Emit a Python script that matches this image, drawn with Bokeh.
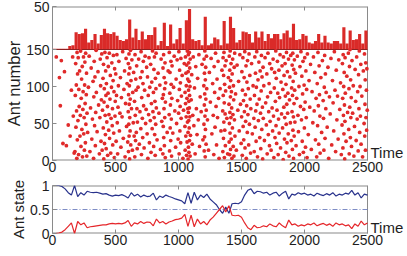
import math
from bokeh.plotting import figure
from bokeh.layouts import column
from bokeh.models import FixedTicker
from bokeh.embed import file_html
from bokeh.resources import INLINE
from bokeh.core.properties import value

# ---------------- data ----------------
bin_width = 25
hist_counts = [1, 1, 1, 1, 1, 4, 5,
               20, 18, 19, 24, 8, 11, 18, 7, 17, 24, 19, 18, 20, 16, 11, 10, 12,
               35, 14, 24, 11, 21, 12, 17, 17, 26, 5, 10, 31, 4, 29, 7, 12, 25, 7, 34, 47, 12, 10, 11, 5, 38,
               5, 7, 14, 12, 5, 33, 7, 38, 25, 8, 11, 21, 20, 18, 8, 21, 14, 21, 10, 18, 13, 18, 18, 12, 19,
               22, 14, 30, 11, 12, 18, 16, 8, 7, 10, 18, 8, 16, 8, 7, 10, 10, 7, 26, 7, 22, 11, 12, 18, 7, 22]
hist_max_label = 50

state_time = list(range(0, 2501, 25))
state_blue = [1.0, 1.0, 1.0, 0.98, 0.93, 0.85, 0.8, 1.0, 0.77,
              0.85, 0.8, 0.88, 0.86, 0.85, 0.86, 0.84, 0.82, 0.83, 0.8, 0.78, 0.8,
              0.79, 0.81, 0.78, 0.74, 0.85, 0.78, 0.82, 0.76, 0.8, 0.77, 0.78, 0.84, 0.7, 0.78, 0.75, 0.8, 0.77, 0.75, 0.72, 0.7,
              0.68, 0.62, 0.85, 0.63, 0.86, 0.7, 0.8, 0.75, 0.82, 0.72, 0.66, 0.6, 0.5, 0.42, 0.55, 0.42, 0.62, 0.63, 0.62, 0.66,
              0.8, 0.9, 0.93, 0.83, 0.88, 0.87, 0.84, 0.86, 0.8, 0.84, 0.86, 0.78, 0.84, 0.88, 0.72, 0.82, 0.8, 0.85, 0.82, 0.84,
              0.8, 0.82, 0.78, 0.84, 0.81, 0.79, 0.83, 0.8, 0.85, 0.78, 0.82, 0.8, 0.84, 0.82, 0.9, 0.8, 0.85, 0.74, 0.82, 0.8]
state_red = [0.0, 0.0, 0.01, 0.03, 0.08, 0.15, 0.22, 0.0, 0.25,
             0.18, 0.22, 0.12, 0.14, 0.15, 0.16, 0.17, 0.18, 0.18, 0.2, 0.21, 0.2,
             0.21, 0.2, 0.22, 0.27, 0.15, 0.22, 0.2, 0.25, 0.21, 0.24, 0.23, 0.16, 0.3, 0.22, 0.25, 0.2, 0.24, 0.26, 0.29, 0.3,
             0.32, 0.4, 0.15, 0.38, 0.14, 0.3, 0.2, 0.25, 0.18, 0.28, 0.34, 0.42, 0.5, 0.58, 0.45, 0.58, 0.38, 0.37, 0.38, 0.34,
             0.22, 0.12, 0.08, 0.17, 0.12, 0.13, 0.16, 0.14, 0.2, 0.16, 0.14, 0.22, 0.16, 0.12, 0.28, 0.18, 0.2, 0.15, 0.18, 0.16,
             0.2, 0.18, 0.22, 0.16, 0.19, 0.21, 0.17, 0.2, 0.15, 0.22, 0.18, 0.2, 0.16, 0.18, 0.1, 0.2, 0.15, 0.26, 0.18, 0.22]
state_threshold = 0.5

events = [
    (30, 140), (55, 112), (62, 74), (70, 135), (83, 23), (95, 120), (110, 20), (125, 48), (140, 33), (150, 95), (160, 140), (165, 60), (172, 10),
    (178, 12), (181, 88), (184, 131), (186, 45), (189, 102), (191, 67), (193, 3), (195, 146), (197, 28), (199, 117),
    (202, 54), (204, 139), (207, 8), (209, 96), (212, 73), (215, 121), (218, 33), (221, 61), (223, 148),
    (226, 19), (228, 84), (231, 110), (233, 42), (236, 127), (238, 5), (241, 69), (243, 93), (246, 140), (248, 36),
    (251, 58), (253, 14), (255, 102), (257, 133), (259, 77), (261, 24), (263, 145), (265, 49), (268, 89), (270, 118), (272, 6), (274, 64),
    (279, 38), (285, 99), (291, 141), (297, 12),
    (302, 71), (307, 125), (312, 29), (317, 56), (322, 107),
    (326, 3), (328, 86), (331, 134), (334, 47), (337, 113), (340, 20), (343, 65), (346, 149), (348, 92),
    (354, 39), (361, 120), (366, 75), (372, 9),
    (376, 58), (379, 137), (382, 101), (385, 26), (388, 82), (391, 144), (394, 14), (397, 68),
    (401, 111), (403, 44), (405, 130), (407, 2), (409, 79), (411, 97), (413, 23), (416, 146), (418, 61), (420, 35), (422, 121), (424, 88),
    (426, 16), (428, 104), (431, 52), (433, 139), (436, 73), (438, 7), (441, 91), (443, 127), (446, 41), (448, 62),
    (451, 145), (453, 30), (456, 83), (459, 115), (462, 10), (465, 57), (468, 99), (471, 132), (474, 47),
    (476, 70), (478, 21), (481, 108), (483, 142), (486, 37), (488, 93), (491, 4), (493, 124), (496, 60), (498, 80),
    (502, 117), (505, 26), (508, 88), (511, 143), (514, 51), (517, 9), (520, 72), (523, 101),
    (527, 134), (531, 40), (535, 64), (539, 112), (543, 18), (547, 85),
    (552, 59), (557, 147), (562, 30), (567, 96), (572, 121),
    (576, 5), (580, 77), (584, 138), (588, 46), (592, 104), (597, 25),
    (601, 66), (602, 131), (603, 12), (604, 89), (605, 49), (606, 117), (607, 144), (608, 33), (609, 76), (610, 101), (612, 2), (613, 58), (614, 125), (616, 40), (617, 83), (619, 149), (621, 21), (623, 108),
    (627, 70), (630, 136), (634, 14), (637, 92), (641, 51), (644, 119), (648, 33),
    (651, 80), (653, 5), (655, 143), (657, 61), (659, 27), (661, 110), (663, 95), (665, 38), (668, 128), (670, 70), (672, 16), (674, 52),
    (679, 99), (684, 137), (689, 22), (694, 66), (698, 112),
    (701, 43), (703, 147), (706, 8), (708, 85), (711, 120), (713, 57), (716, 31), (718, 104), (721, 134), (723, 74),
    (727, 17), (731, 95), (735, 141), (739, 50), (743, 69), (747, 126),
    (751, 36), (754, 113), (757, 3), (760, 88), (763, 62), (766, 139), (769, 24), (772, 99),
    (776, 54), (779, 130), (782, 11), (785, 77), (788, 106), (791, 43), (794, 148), (797, 66),
    (801, 92), (803, 19), (805, 123), (807, 58), (809, 140), (811, 35), (813, 80), (815, 7), (817, 111), (819, 49), (821, 97), (822, 145), (824, 71),
    (830, 28), (838, 118), (845, 64),
    (852, 102), (857, 15), (862, 137), (867, 53), (872, 84),
    (876, 9), (877, 125), (879, 46), (880, 89), (882, 143), (883, 31), (885, 70), (886, 112), (888, 20), (890, 97), (891, 58), (893, 132), (895, 4), (896, 79), (898, 105),
    (910, 38), (918, 121),
    (926, 62), (927, 146), (929, 13), (931, 91), (932, 119), (934, 44), (936, 75), (938, 27), (940, 134), (942, 103), (943, 56), (945, 6), (947, 84), (949, 128),
    (955, 37), (961, 99), (966, 141), (971, 67),
    (977, 18), (981, 110), (985, 50), (989, 136), (993, 81), (997, 29),
    (1001, 64), (1003, 147), (1005, 9), (1007, 96), (1009, 122), (1011, 40), (1013, 73), (1015, 105), (1017, 24), (1019, 138), (1021, 57), (1023, 87),
    (1029, 115), (1035, 3), (1040, 68), (1046, 131),
    (1051, 46), (1052, 92), (1053, 14), (1055, 140), (1056, 77), (1058, 33), (1059, 118), (1061, 59), (1062, 101), (1064, 7), (1065, 129), (1067, 84), (1068, 25), (1070, 148), (1071, 52), (1073, 110), (1074, 70),
    (1076, 2), (1076, 38), (1077, 120), (1078, 65), (1078, 143), (1079, 18), (1080, 95), (1081, 54), (1081, 132), (1082, 80), (1083, 11), (1084, 107), (1085, 44), (1086, 146), (1086, 71), (1087, 27), (1088, 88), (1089, 125), (1090, 59), (1091, 100), (1092, 6), (1093, 137), (1095, 34),
    (1101, 82), (1105, 116), (1109, 22), (1113, 61), (1117, 140), (1122, 47),
    (1127, 98), (1132, 9), (1137, 127), (1142, 70), (1147, 35),
    (1152, 111), (1157, 55), (1162, 143), (1167, 19), (1172, 86),
    (1180, 66), (1187, 130), (1194, 28),
    (1201, 101), (1202, 49), (1203, 137), (1204, 13), (1205, 75), (1206, 118), (1207, 32), (1208, 90), (1209, 148), (1210, 60), (1212, 5), (1213, 109), (1214, 42), (1216, 126), (1217, 83), (1219, 22), (1220, 68), (1222, 141), (1224, 97),
    (1230, 55), (1238, 14), (1245, 119),
    (1253, 79), (1259, 138), (1265, 36), (1271, 104),
    (1276, 61), (1280, 8), (1283, 127), (1287, 92), (1290, 45), (1294, 145), (1298, 73),
    (1302, 21), (1306, 110), (1310, 58), (1314, 134), (1318, 84), (1322, 3),
    (1330, 97), (1337, 40), (1345, 122),
    (1351, 67), (1352, 12), (1354, 139), (1355, 88), (1357, 30), (1358, 115), (1360, 52), (1361, 146), (1363, 78), (1364, 4), (1366, 103), (1367, 41), (1369, 128), (1370, 63), (1372, 20), (1374, 94),
    (1378, 135), (1384, 57), (1390, 9), (1396, 112),
    (1401, 76), (1402, 25), (1403, 141), (1404, 50), (1405, 99), (1406, 8), (1407, 122), (1408, 65), (1409, 37), (1410, 148), (1412, 86), (1413, 15), (1414, 108), (1416, 58), (1417, 131), (1418, 29), (1420, 93), (1422, 71), (1424, 3),
    (1426, 117), (1428, 44), (1430, 137), (1432, 62), (1434, 19), (1436, 101), (1438, 82), (1440, 6), (1442, 126), (1444, 55), (1446, 145), (1448, 33),
    (1453, 90), (1459, 14), (1465, 129), (1471, 68),
    (1477, 107), (1482, 40), (1487, 143), (1492, 76), (1497, 23),
    (1501, 59), (1503, 120), (1506, 7), (1508, 95), (1511, 139), (1513, 46), (1516, 81), (1518, 28), (1521, 112), (1523, 66),
    (1526, 147), (1528, 17), (1531, 89), (1533, 53), (1536, 128), (1538, 3), (1541, 74), (1543, 106), (1546, 38), (1548, 135),
    (1551, 62), (1554, 97), (1557, 21), (1560, 144), (1563, 49), (1566, 115), (1569, 83), (1572, 10), (1574, 70),
    (1580, 131), (1586, 36), (1592, 101), (1598, 57),
    (1601, 12), (1603, 88), (1606, 140), (1608, 45), (1611, 118), (1613, 67), (1616, 26), (1618, 99), (1621, 147), (1623, 76),
    (1627, 5), (1631, 109), (1634, 54), (1638, 133), (1641, 83), (1645, 31), (1648, 121),
    (1651, 64), (1653, 16), (1656, 94), (1658, 142), (1661, 42), (1663, 113), (1666, 72), (1668, 2), (1671, 126), (1673, 57),
    (1677, 101), (1682, 27), (1687, 139), (1692, 78), (1697, 48),
    (1701, 117), (1704, 9), (1707, 86), (1710, 145), (1713, 35), (1716, 66), (1719, 104), (1722, 20), (1724, 131),
    (1727, 53), (1731, 92), (1735, 14), (1739, 124), (1743, 71), (1747, 40),
    (1751, 137), (1754, 60), (1757, 4), (1760, 98), (1763, 119), (1766, 31), (1769, 80), (1772, 148), (1774, 47),
    (1776, 111), (1779, 23), (1782, 68), (1785, 134), (1788, 91), (1791, 8), (1794, 56), (1797, 122), (1799, 37),
    (1802, 85), (1806, 143), (1810, 17), (1814, 106), (1818, 63), (1822, 128),
    (1826, 44), (1828, 96), (1831, 1), (1833, 140), (1836, 72), (1838, 115), (1841, 29), (1843, 58), (1846, 131), (1848, 87),
    (1851, 11), (1853, 103), (1855, 49), (1857, 146), (1859, 76), (1861, 24), (1864, 120), (1866, 64), (1868, 91), (1871, 36), (1873, 137),
    (1877, 6), (1881, 82), (1884, 113), (1888, 51), (1891, 142), (1895, 27), (1898, 98),
    (1901, 66), (1902, 129), (1904, 15), (1905, 88), (1907, 145), (1908, 41), (1910, 107), (1912, 59), (1913, 3), (1915, 123), (1917, 77), (1918, 33), (1920, 136), (1922, 95), (1924, 52),
    (1928, 118), (1933, 20), (1938, 84), (1943, 141), (1948, 61),
    (1952, 39), (1956, 100), (1960, 8), (1964, 127), (1968, 73), (1972, 147),
    (1976, 55), (1979, 114), (1982, 26), (1985, 90), (1988, 134), (1991, 11), (1994, 69), (1997, 102), (1999, 44),
    (2002, 139), (2005, 79), (2008, 18), (2011, 121), (2014, 58), (2017, 96), (2020, 4), (2023, 144),
    (2030, 35), (2036, 108), (2042, 72), (2048, 130),
    (2054, 15), (2060, 93), (2066, 51), (2071, 140),
    (2077, 67), (2082, 119), (2087, 28), (2092, 84), (2097, 5),
    (2101, 104), (2104, 47), (2107, 146), (2110, 74), (2113, 22), (2116, 128), (2119, 89), (2122, 60), (2124, 10),
    (2130, 112), (2136, 38), (2142, 135), (2148, 81),
    (2151, 57), (2154, 14), (2157, 99), (2160, 142), (2163, 30), (2166, 117), (2169, 70), (2172, 92),
    (2180, 45), (2186, 126), (2192, 3), (2198, 86),
    (2204, 63), (2210, 138), (2216, 21), (2222, 108),
    (2227, 78), (2232, 40), (2237, 147), (2242, 95), (2247, 12),
    (2252, 122), (2257, 55), (2262, 87), (2267, 29), (2272, 136),
    (2280, 69), (2286, 105), (2292, 8), (2298, 48),
    (2301, 131), (2303, 84), (2305, 17), (2307, 143), (2309, 61), (2311, 100), (2313, 36), (2315, 119), (2317, 75), (2319, 2), (2321, 53), (2322, 139), (2324, 91),
    (2330, 26), (2336, 114), (2342, 65), (2348, 145),
    (2351, 42), (2353, 97), (2355, 9), (2357, 127), (2359, 72), (2361, 150), (2364, 31), (2366, 109), (2368, 58), (2371, 85), (2373, 19),
    (2377, 135), (2382, 64), (2387, 101), (2392, 6), (2397, 46),
    (2402, 123), (2406, 80), (2410, 27), (2414, 140), (2418, 56), (2422, 93),
    (2426, 13), (2429, 116), (2432, 70), (2435, 148), (2438, 38), (2441, 100), (2444, 60), (2447, 130), (2449, 22),
    (2455, 87), (2461, 5), (2467, 121), (2473, 50),
    (2476, 144), (2478, 33), (2480, 76), (2482, 109), (2484, 14), (2486, 132), (2488, 58), (2491, 95), (2493, 41), (2495, 124), (2498, 68),
]
ant_time = [e[0] for e in events]
ant_id = [e[1] for e in events]

x_ticks = [0, 500, 1000, 1500, 2000, 2500]
top_y_ticks = [0, 50, 100, 150]
state_ticks = [0, 0.5, 1]
t_min, t_max = 0, 2500

# ---------------- style / layout ----------------
FONT = "Liberation Sans"
RED = "#da2a28"
DOT = "#e02a2a"
BLUE = "#28328c"
LRED = "#e5262a"
FRAME = "#8a8a8a"
TXT = "#1e1e1e"

W = 407
LEFT = 52          # px left of the box
BOX_W = 315        # px width of the box
RIGHT_SPACE = W - LEFT - BOX_W
x_end = t_max + (t_max - t_min) * RIGHT_SPACE / BOX_W   # room for the "Time" text
TICK_PX = 4

hist_base = 150
top_frame_h = 154
bot_frame_h = 48
y_top = hist_base * top_frame_h / 111.0
hist_scale = (y_top - hist_base) / hist_max_label


def style(p, yt, yover, frame_h, y0, y1, label, label_size):
    p.grid.visible = False
    p.outline_line_color = None
    for ax in (p.xaxis[0], p.yaxis[0]):
        ax.major_tick_in = TICK_PX
        ax.major_tick_out = 0
        ax.minor_tick_line_color = None
        ax.major_tick_line_color = FRAME
        ax.major_label_text_font = FONT
        ax.major_label_text_font_size = "14px"
        ax.major_label_text_color = TXT
    p.xaxis[0].major_label_standoff = 1
    p.yaxis[0].major_label_standoff = 3
    p.xaxis[0].axis_line_color = None
    p.yaxis[0].axis_line_color = FRAME
    p.xaxis[0].ticker = FixedTicker(ticks=x_ticks)
    p.yaxis[0].ticker = FixedTicker(ticks=yt)
    p.yaxis[0].major_label_overrides = yover
    p.yaxis[0].axis_label = label
    p.yaxis[0].axis_label_text_font = FONT
    p.yaxis[0].axis_label_text_font_size = label_size
    p.yaxis[0].axis_label_text_font_style = "normal"
    p.yaxis[0].axis_label_text_color = TXT
    p.yaxis[0].axis_label_standoff = 0
    # box around the data area (time 0..2500), drawn through the data scales
    p.line([t_min, t_max], [y0, y0], line_color=FRAME, line_width=2)
    p.line([t_min, t_max], [y1, y1], line_color=FRAME, line_width=2)
    p.line([t_max, t_max], [y0, y1], line_color=FRAME, line_width=1)
    # inward ticks on the top edge
    tick_len = (y1 - y0) * TICK_PX / frame_h
    p.segment(x0=x_ticks, y0=[y1] * len(x_ticks), x1=x_ticks, y1=[y1 - tick_len] * len(x_ticks),
              line_color=FRAME, line_width=1)


# ---------------- top panel ----------------
p1 = figure(width=W, height=177, x_range=(t_min, x_end), y_range=(0, y_top),
            output_backend="svg", toolbar_location=None,
            min_border_left=LEFT, min_border_right=0, min_border_top=6, min_border_bottom=17)
style(p1, top_y_ticks + [y_top], {y_top: str(hist_max_label)}, top_frame_h, 0, y_top,
      "Ant number", "16.5px")

centers = [bin_width * (k + 0.5) for k in range(len(hist_counts))]
tops = [hist_base + c * hist_scale for c in hist_counts]
p1.vbar(x=centers, width=bin_width, bottom=hist_base, top=tops,
        fill_color=RED, line_color=None)
p1.line([t_min, t_max], [hist_base, hist_base], line_color="#8c2222", line_width=1)
p1.scatter(ant_time, ant_id, size=3.8, fill_color=DOT, line_color=None)
p1.text(x=[t_max], y=[y_top * 8 / top_frame_h], text=["Time"], x_offset=3, text_align="left",
        text_baseline="middle", text_font=value(FONT), text_font_size="15px", text_color=TXT)

# ---------------- bottom panel ----------------
p2 = figure(width=W, height=79, x_range=(t_min, x_end), y_range=(0, 1),
            output_backend="svg", toolbar_location=None,
            min_border_left=LEFT, min_border_right=0, min_border_top=8, min_border_bottom=23)
style(p2, state_ticks, {0.5: "0.5"}, bot_frame_h, 0, 1, "Ant state", "15px")

p2.line([t_min, t_max], [state_threshold, state_threshold], line_color="#6f80c0",
        line_width=0.9, line_dash="5 2 1 2")
p2.line(state_time, state_blue, line_color=BLUE, line_width=1.2)
p2.line(state_time, state_red, line_color=LRED, line_width=1.2)
p2.text(x=[t_max], y=[6 / bot_frame_h], text=["Time"], x_offset=3, text_align="left",
        text_baseline="middle", text_font=value(FONT), text_font_size="15px", text_color=TXT)

layout = column(p1, p2, spacing=0)
open("out.html", "w").write(file_html(layout, INLINE))
